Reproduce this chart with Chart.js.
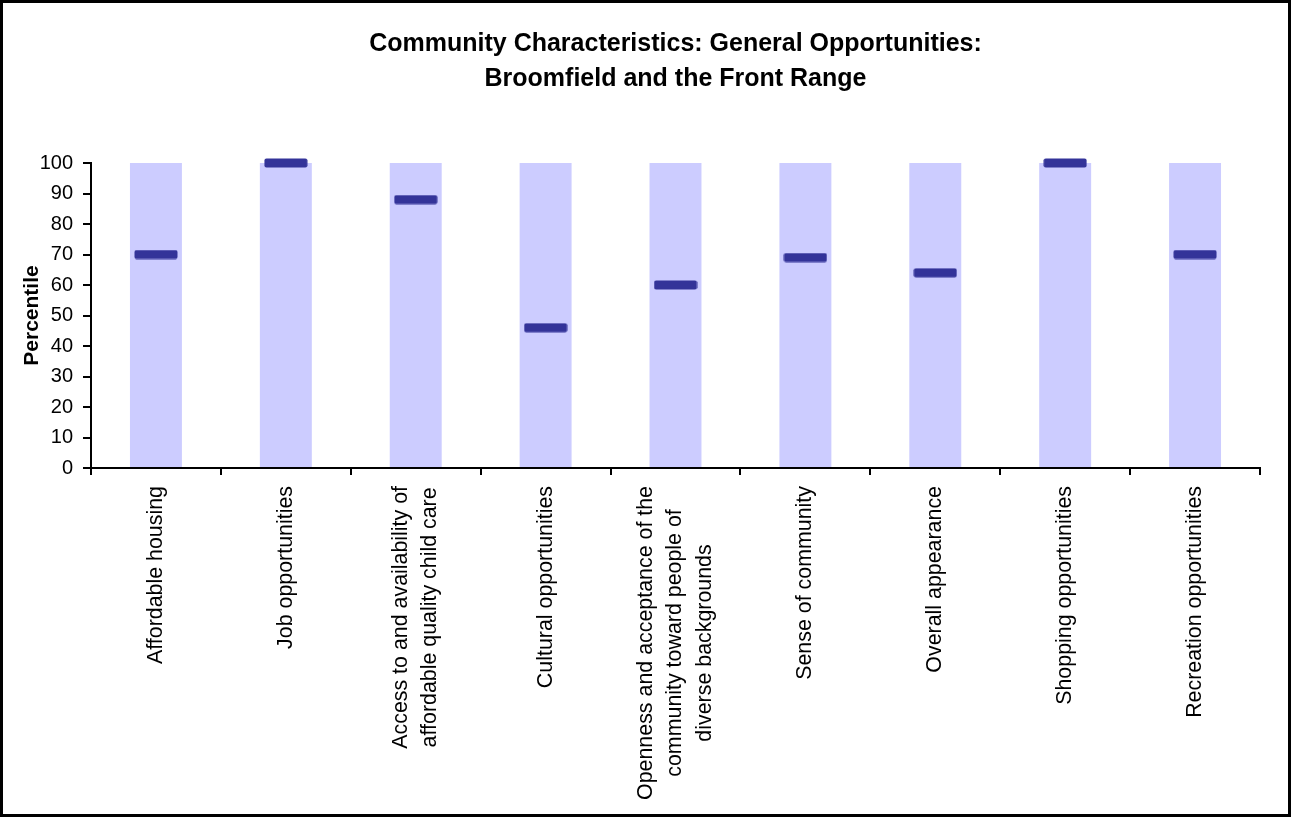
<!DOCTYPE html>
<html>
<head>
<meta charset="utf-8">
<title>Community Characteristics: General Opportunities</title>
<script src="https://cdn.jsdelivr.net/npm/chart.js@4.4.1/dist/chart.umd.min.js"></script>
<style>
  html, body { margin: 0; padding: 0; background: #fff; }
  .chart_box { width: 1291px; height: 817px; box-sizing: border-box; border: 3px solid #000; background: #fff; }
  .chart_box canvas { display: block; }
</style>
</head>
<body>
<div class="chart_box"><canvas id="opportunitiesChart" width="1285" height="811"></canvas></div>
<script>
// 항목 (여러 줄 라벨은 배열로)
const categories = [
  "Affordable housing",
  "Job opportunities",
  ["Access to and availability of", "affordable quality child care"],
  "Cultural opportunities",
  ["Openness and acceptance of the", "community toward people of", "diverse backgrounds"],
  "Sense of community",
  "Overall appearance",
  "Shopping opportunities",
  "Recreation opportunities"
];
// Front Range 범위 (0~100)
const rangeTop = [100, 100, 100, 100, 100, 100, 100, 100, 100];
// Broomfield 백분위
const percentiles = [70, 100, 88, 46, 60, 69, 64, 100, 70];
const yTicks = [0, 10, 20, 30, 40, 50, 60, 70, 80, 90, 100];

Chart.defaults.font.family = 'Arial, "Liberation Sans", sans-serif';
Chart.defaults.color = "#000";

// 마커 모양 (가로 막대)
const marker = document.createElement("canvas");
marker.width = 44;
marker.height = 10;
{
  const m = marker.getContext("2d");
  m.fillStyle = "#333399";
  m.beginPath();
  m.roundRect(0.5, 0.5, 43, 9, 2);
  m.fill();
}

// x축 라벨: 세로 회전, 여러 줄은 가운데 정렬
const xLabelPlugin = {
  id: "xLabels",
  afterDraw(chart) {
    const xs = chart.scales.x;
    const ctx = chart.ctx;
    const lineH = 29.5;
    ctx.save();
    ctx.font = '21.4px Arial, "Liberation Sans", sans-serif';
    ctx.fillStyle = "#000";
    ctx.textAlign = "center";
    ctx.textBaseline = "middle";
    categories.forEach((label, i) => {
      const lines = [].concat(label);
      const maxW = Math.max(...lines.map(l => ctx.measureText(l).width));
      const x = xs.getPixelForTick(i);
      const top = xs.top + 18;
      ctx.save();
      ctx.translate(x, top + maxW / 2);
      ctx.rotate(-Math.PI / 2);
      lines.forEach((l, j) => ctx.fillText(l, 0, (j - (lines.length - 1) / 2) * lineH));
      ctx.restore();
    });
    ctx.restore();
  }
};

const ctx = document.getElementById("opportunitiesChart");
new Chart(ctx, {
  data: {
    labels: categories,
    datasets: [
      {
        type: "line",
        label: "Broomfield",
        data: percentiles,
        showLine: false,
        pointStyle: marker,
        pointRadius: 5,
        clip: false,
        order: 1
      },
      {
        type: "bar",
        label: "Front Range",
        data: rangeTop,
        backgroundColor: "#CCCCFF",
        borderWidth: 0,
        barPercentage: 0.4,
        categoryPercentage: 1,
        order: 2
      }
    ]
  },
  options: {
    responsive: false,
    animation: false,
    layout: { padding: { left: 12, right: 28, top: 0, bottom: 0 } },
    plugins: {
      legend: { display: false },
      tooltip: { enabled: false },
      title: {
        display: true,
        fullSize: false,
        text: ["Community Characteristics: General Opportunities:", "Broomfield and the Front Range"],
        color: "#000",
        font: { size: 25, weight: "bold", lineHeight: 1.42 },
        padding: { top: 23, bottom: 66 }
      }
    },
    scales: {
      x: {
        offset: true,
        ticks: { display: false },
        grid: {
          offset: true,
          drawOnChartArea: false,
          drawTicks: true,
          tickLength: 7,
          color: "#000",
          lineWidth: 2
        },
        border: { display: true, color: "#000", width: 2 },
        afterFit: s => { s.height = 346; }
      },
      y: {
        min: 0,
        max: 100,
        afterBuildTicks: s => { s.ticks = yTicks.map(v => ({ value: v })); },
        ticks: { font: { size: 20 }, padding: 10, color: "#000" },
        grid: {
          drawOnChartArea: false,
          drawTicks: true,
          tickLength: 8,
          color: "#000",
          lineWidth: 2
        },
        border: { display: true, color: "#000", width: 2 },
        title: {
          display: true,
          text: "Percentile",
          color: "#000",
          font: { size: 21, weight: "bold" },
          padding: { top: 5, bottom: 0 }
        },
        afterFit: s => { s.width = 76; }
      }
    }
  },
  plugins: [xLabelPlugin]
});
</script>
</body>
</html>
